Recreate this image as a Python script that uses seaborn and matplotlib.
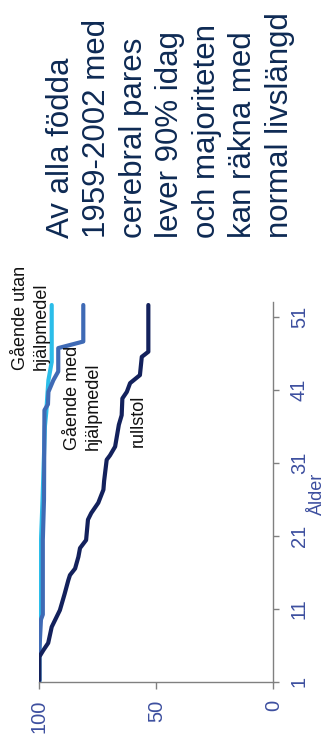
import matplotlib
matplotlib.use("Agg")
import matplotlib.pyplot as plt
import numpy as np
import pandas as pd
import seaborn as sns

# Andel levande (%) efter ålder, per grupp
age_utan = [1, 5, 10, 17, 21, 26, 30, 36, 38, 40, 42.3, 44.8, 52.6]
pct_utan = [100, 100, 99.7, 99.5, 99.2, 98.6, 98.2, 97.6, 97.0, 96.6, 96.1, 94.7, 94.7]

age_med = [1, 5, 9.5, 10.2, 20.4, 25.9, 38.2, 39.0, 40.7, 42.3, 43.5, 46.7, 47.6, 52.6]
pct_med = [100, 100, 99.3, 98.5, 98.5, 98.0, 97.8, 96.3, 96.1, 94.0, 91.9, 91.9, 81.2, 81.2]

age_rull = [1.2, 4.4, 5.3, 6.3, 8.5, 10.8, 13.0, 14.9, 15.6, 16.5, 18.1, 19.3, 20.4,
            23.2, 24.1, 25.5, 27.3, 28.5, 31.4, 32.0, 33.2, 36.2, 37.5, 39.8, 40.7,
            41.9, 43.0, 45.5, 46.2, 52.6]
pct_rull = [100, 100, 98.3, 96.2, 94.7, 91.2, 89.2, 87.6, 86.9, 84.7, 83.3, 82.6, 80.0,
            79.2, 77.8, 74.8, 72.6, 72.3, 71.2, 69.8, 67.6, 66.0, 64.8, 64.5, 62.6,
            61.2, 57.0, 56.2, 53.4, 53.4]

groups = ["Gående utan hjälpmedel", "Gående med hjälpmedel", "rullstol"]
group_colors = ["#2bbde9", "#3f6ab5", "#13215c"]

age_ticks = [1, 11, 21, 31, 41, 51]
pct_ticks = [100, 50, 0]

title_lines = ["Av alla födda", "1959-2002 med", "cerebral pares", "lever 90% idag",
               "och majoriteten", "kan räkna med", "normal livslängd"]

df = pd.concat([
    pd.DataFrame({"age": age_utan, "pct": pct_utan, "grupp": groups[0]}),
    pd.DataFrame({"age": age_med, "pct": pct_med, "grupp": groups[1]}),
    pd.DataFrame({"age": age_rull, "pct": pct_rull, "grupp": groups[2]}),
], ignore_index=True)

sns.set_theme(style="white")
plt.rcParams["font.family"] = ["Liberation Sans", "DejaVu Sans"]

W, H = 330, 751
fig = plt.figure(figsize=(W / 100, H / 100), dpi=100)
ax = fig.add_axes([39.3 / W, 1 - 681.7 / H, 234.0 / W, (681.7 - 302.1) / H])

sns.lineplot(data=df, x="pct", y="age", hue="grupp", hue_order=groups,
             palette=dict(zip(groups, group_colors)), orient="y", estimator=None,
             sort=True, linewidth=3, legend=False, ax=ax,
             solid_capstyle="round", solid_joinstyle="round")

tick_blue = "#3d4f9f"
axis_gray = "#808080"

ax.set_xlim(100, 0)
ax.set_ylim(1, 53)
ax.set_xticks(pct_ticks)
ax.set_xticklabels([str(v) for v in pct_ticks])
ax.set_yticks(age_ticks)
ax.set_yticklabels([str(v) for v in age_ticks])
ax.set_xlabel("")

ax.yaxis.tick_right()
ax.tick_params(axis="x", bottom=True, length=5, width=1, color=axis_gray, pad=8,
               labelsize=14.5, labelcolor=tick_blue, labelrotation=90)
ax.tick_params(axis="y", right=True, left=False, length=4, width=1, color=axis_gray,
               pad=8, labelsize=14.5, labelcolor=tick_blue, labelrotation=90)
for lbl in ax.get_yticklabels():
    lbl.set_va("center")

for side in ["left", "top"]:
    ax.spines[side].set_visible(False)
for side in ["bottom", "right"]:
    ax.spines[side].set_color(axis_gray)
    ax.spines[side].set_linewidth(1)

ax.set_ylabel("Ålder", fontsize=13, color=tick_blue)
ax.yaxis.set_label_position("right")
ax.yaxis.label.set_rotation(90)
ax.yaxis.label.set_rotation_mode("default")
ax.yaxis.label.set_ha("center")
ax.yaxis.label.set_va("center")
ax.yaxis.set_label_coords((317 - 39.3) / 234.0, (681.7 - 494) / 379.6)

# Gruppetiketter
label_kw = dict(rotation=90, ha="left", va="bottom", multialignment="left",
                fontsize=13, linespacing=1.27, color="#111111")
fig.text(12 / W, 1 - 370 / H, "Gående utan\nhjälpmedel", **label_kw)
fig.text(64 / W, 1 - 450 / H, "Gående med\nhjälpmedel", **label_kw)
fig.text(130 / W, 1 - 447 / H, "rullstol", **label_kw)

# Rubrik
fig.text(46 / W, 1 - 238 / H, "\n".join(title_lines), rotation=90, ha="left",
         va="bottom", multialignment="left", fontsize=22.5, linespacing=1.28,
         color="#0e2a54")

fig.savefig("out.png", dpi=100)
